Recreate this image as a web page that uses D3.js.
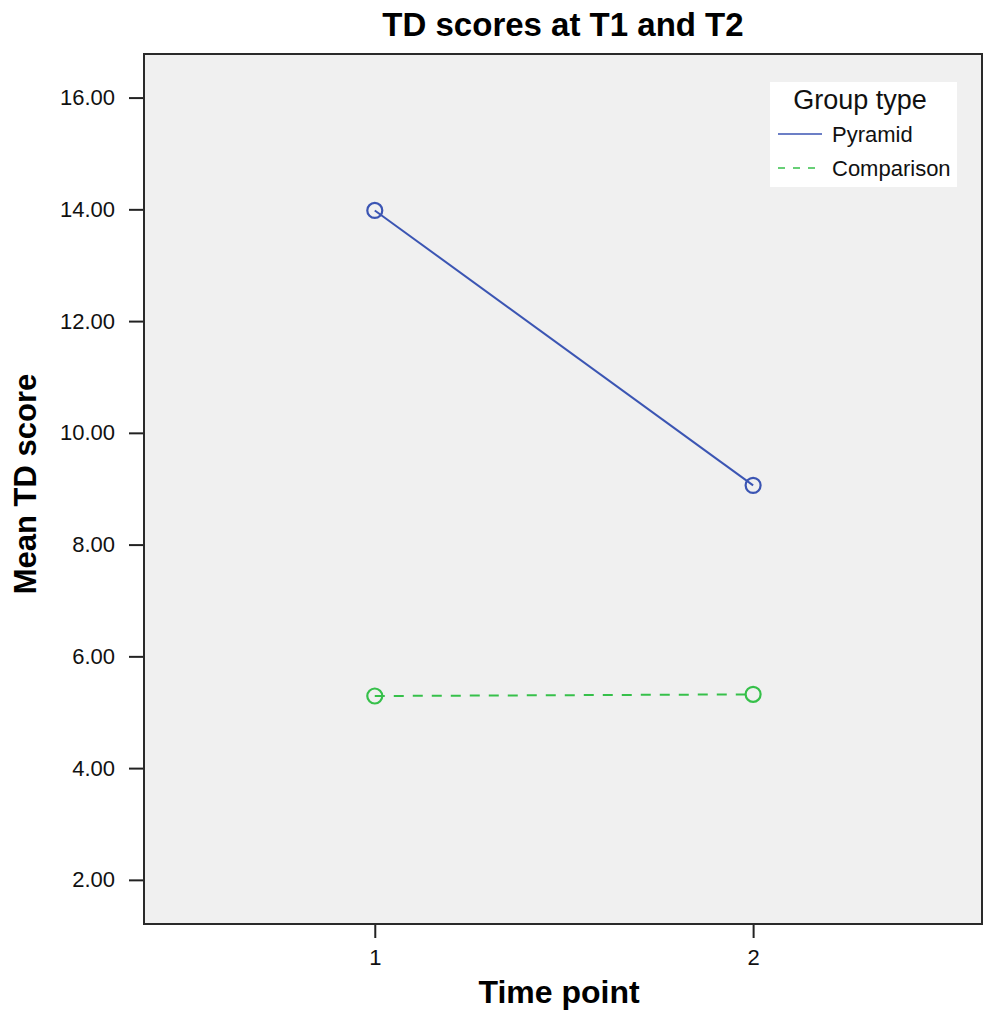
<!DOCTYPE html>
<html>
<head>
<meta charset="utf-8">
<script src="https://cdn.jsdelivr.net/npm/d3@7"></script>
<style>
  body { margin: 0; background: #fff; }
  svg text { font-family: "Liberation Sans", Arial, sans-serif; }
</style>
</head>
<body>
<div id="chart"></div>
<script>
// Chart data
const timePoints = [1, 2];
const groups = ["Pyramid", "Comparison"];
const pyramidMeans = [13.98, 9.06];
const comparisonMeans = [5.29, 5.32];
const yTicks = [2, 4, 6, 8, 10, 12, 14, 16];

const width = 984, height = 1011;
const margin = { top: 54, right: 2, bottom: 87, left: 144 };
const plotW = width - margin.left - margin.right;
const plotH = height - margin.top - margin.bottom;

const svg = d3.select("#chart")
    .append("svg")
    .attr("width", width)
    .attr("height", height);

const x = d3.scaleLinear().domain([0.39, 2.605]).range([0, plotW]);
const y = d3.scaleLinear().domain([1.21, 16.78]).range([plotH, 0]);

const g = svg.append("g")
    .attr("transform", `translate(${margin.left},${margin.top})`);

// Plot background
g.append("rect")
    .attr("width", plotW)
    .attr("height", plotH)
    .attr("fill", "#f0f0f0");

// Axes
const yAxis = g.append("g")
    .call(d3.axisLeft(y).tickValues(yTicks).tickSize(15).tickPadding(14)
        .tickFormat(d3.format(".2f")));
const xAxis = g.append("g")
    .attr("transform", `translate(0,${plotH})`)
    .call(d3.axisBottom(x).tickValues(timePoints).tickSize(14).tickPadding(11)
        .tickFormat(d3.format("d")));

[yAxis, xAxis].forEach(ax => {
    ax.attr("font-size", null).attr("font-family", null);
    ax.select(".domain").remove();
    ax.selectAll(".tick line").attr("stroke", "#222").attr("stroke-width", 2);
    ax.selectAll(".tick text")
        .attr("fill", "#111")
        .attr("font-size", "22px")
        .style("font-size", "22px");
});

// Frame
g.append("rect")
    .attr("width", plotW)
    .attr("height", plotH)
    .attr("fill", "none")
    .attr("stroke", "#2a2a2a")
    .attr("stroke-width", 2);

// Series
const series = [
    { name: groups[0], values: pyramidMeans, color: "#3b55b3", dash: null },
    { name: groups[1], values: comparisonMeans, color: "#36c04a", dash: "10,9" }
];

const line = d3.line()
    .x((d, i) => x(timePoints[i]))
    .y(d => y(d));

series.forEach(s => {
    g.append("path")
        .datum(s.values)
        .attr("d", line)
        .attr("fill", "none")
        .attr("stroke", s.color)
        .attr("stroke-width", 2)
        .attr("stroke-dasharray", s.dash);

    g.selectAll(null)
        .data(s.values)
        .enter()
        .append("circle")
        .attr("cx", (d, i) => x(timePoints[i]))
        .attr("cy", d => y(d))
        .attr("r", 7.5)
        .attr("fill", "none")
        .attr("stroke", s.color)
        .attr("stroke-width", 2.2);
});

// Legend
const legend = svg.append("g").attr("transform", "translate(770,82)");
legend.append("rect")
    .attr("width", 187)
    .attr("height", 105)
    .attr("fill", "#fff");
legend.append("text")
    .attr("x", 90)
    .attr("y", 27)
    .attr("text-anchor", "middle")
    .style("font-size", "27px")
    .attr("fill", "#111")
    .text("Group type");

const legendItems = legend.selectAll(".legend-item")
    .data(series)
    .enter()
    .append("g")
    .attr("class", "legend-item")
    .attr("transform", (d, i) => `translate(0, ${52 + i * 34})`);

legendItems.append("line")
    .attr("x1", 8)
    .attr("x2", 52)
    .attr("stroke", d => d.color)
    .attr("stroke-width", 1.6)
    .attr("stroke-dasharray", d => d.dash ? "7,8" : null);

legendItems.append("text")
    .attr("x", 62)
    .attr("y", 8)
    .style("font-size", "22px")
    .attr("fill", "#111")
    .text(d => d.name);

// Titles
svg.append("text")
    .attr("x", margin.left + plotW / 2)
    .attr("y", 36)
    .attr("text-anchor", "middle")
    .style("font-size", "33px")
    .style("font-weight", "bold")
    .text("TD scores at T1 and T2");

svg.append("text")
    .attr("x", margin.left + plotW / 2 - 4)
    .attr("y", 1003)
    .attr("text-anchor", "middle")
    .style("font-size", "32px")
    .style("font-weight", "bold")
    .text("Time point");

svg.append("text")
    .attr("transform", `translate(36, ${margin.top + plotH / 2 - 5}) rotate(-90)`)
    .attr("text-anchor", "middle")
    .style("font-size", "31px")
    .style("font-weight", "bold")
    .text("Mean TD score");
</script>
</body>
</html>
